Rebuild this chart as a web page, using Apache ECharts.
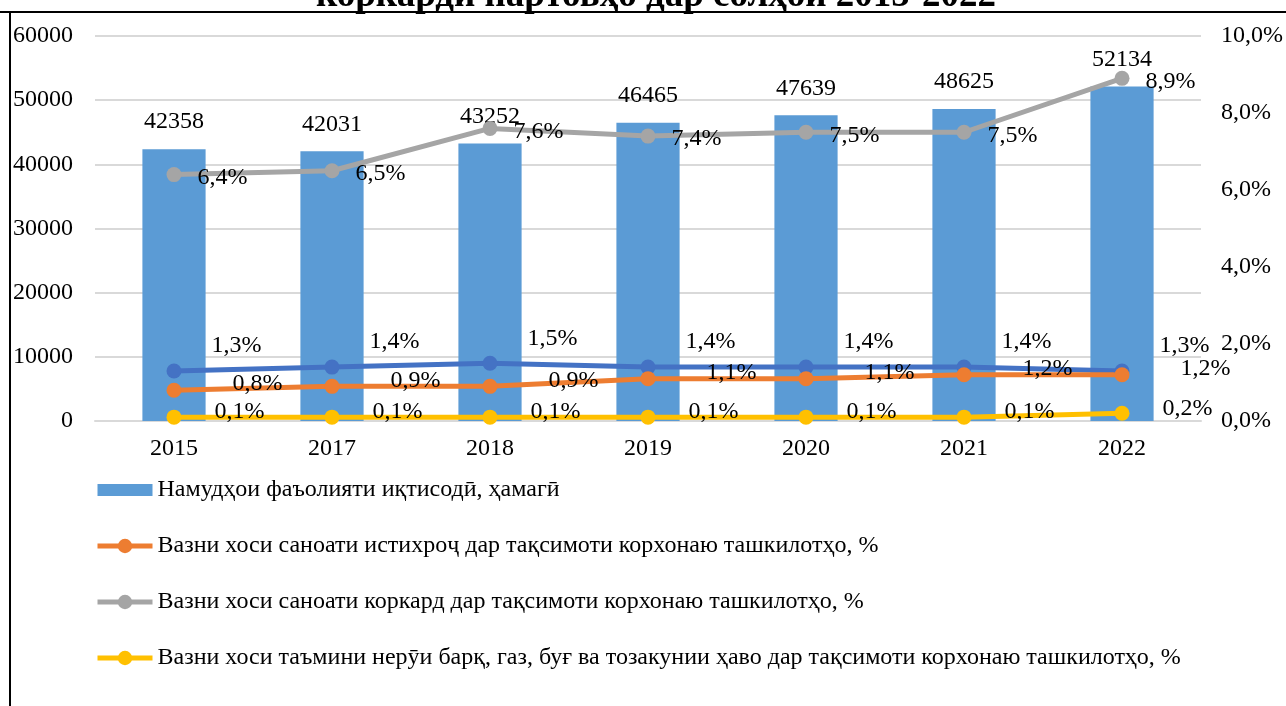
<!DOCTYPE html>
<html>
<head>
<meta charset="utf-8">
<script src="https://cdn.jsdelivr.net/npm/echarts@6/dist/echarts.min.js"></script>
<style>
html,body{margin:0;padding:0;background:#fff;}
#chart{width:1286px;height:706px;}
</style>
</head>
<body>
<div id="chart"></div>
<script>
const titleText = 'коркарди партовҳо дар солҳои 2015-2022';
const categories = ['2015', '2017', '2018', '2019', '2020', '2021', '2022'];
const totalName = 'Намудҳои фаъолияти иқтисодӣ, ҳамагӣ';
const totalValues = [42358, 42031, 43252, 46465, 47639, 48625, 52134];
const miningName = 'Вазни хоси саноати истихроҷ дар тақсимоти корхонаю ташкилотҳо, %';
const miningValues = [0.8, 0.9, 0.9, 1.1, 1.1, 1.2, 1.2];
const processingName = 'Вазни хоси саноати коркард дар тақсимоти корхонаю ташкилотҳо, %';
const processingValues = [6.4, 6.5, 7.6, 7.4, 7.5, 7.5, 8.9];
const energyName = 'Вазни хоси таъмини нерӯи барқ, газ, буғ ва тозакунии ҳаво дар тақсимоти корхонаю ташкилотҳо, %';
const energyValues = [0.1, 0.1, 0.1, 0.1, 0.1, 0.1, 0.2];
const otherName = 'Вазни хоси дигар соҳаҳо, %';
const otherValues = [1.3, 1.4, 1.5, 1.4, 1.4, 1.4, 1.3];
const leftTicks = [0, 60000, 10000];
const rightTicks = [0, 10, 2];

const FONT = '"Liberation Serif", "Times New Roman", serif';
const FS = 24;
const pct = v => (typeof v === 'object' ? v.value : v).toFixed(1).replace('.', ',') + '%';

function lineSeries(name, data, color, offset) {
  return {
    name, type: 'line', yAxisIndex: 1, data,
    symbol: 'circle', symbolSize: 15,
    lineStyle: { color, width: 5 },
    itemStyle: { color },
    label: {
      show: true, position: 'right', distance: 15, offset,
      formatter: p => pct(p.value),
      fontFamily: FONT, fontSize: FS, color: '#000'
    },
    z: 3
  };
}

const chart = echarts.init(document.getElementById('chart'));
chart.setOption({
  animation: false,
  backgroundColor: '#fff',
  title: {
    text: titleText, left: 651, textAlign: 'center', top: -27,
    textStyle: { fontFamily: FONT, fontSize: 37, fontWeight: 'bold', color: '#000' }
  },
  graphic: [
    { type: 'line', shape: { x1: 0, y1: 12, x2: 1286, y2: 12 }, style: { stroke: '#000', lineWidth: 2 }, z: 10 },
    { type: 'line', shape: { x1: 10, y1: 12, x2: 10, y2: 706 }, style: { stroke: '#000', lineWidth: 2 }, z: 10 }
  ],
  grid: { left: 95, right: 80, top: 36, bottom: 285, containLabel: false },
  legend: {
    orient: 'vertical', left: 90, top: 473,
    data: [
      { name: totalName, icon: 'path://M0,0H55V12H0Z' },
      miningName, processingName, energyName
    ],
    itemWidth: 55, itemHeight: 18, itemGap: 32,
    lineStyle: { width: 5 },
    textStyle: { fontFamily: FONT, fontSize: FS, color: '#000', lineHeight: 24 }
  },
  xAxis: {
    type: 'category', data: categories,
    axisLine: { lineStyle: { color: '#D9D9D9', width: 2 } },
    axisTick: { show: false },
    axisLabel: { fontFamily: FONT, fontSize: FS, color: '#000', margin: 16 }
  },
  yAxis: [
    {
      type: 'value', min: leftTicks[0], max: leftTicks[1], interval: leftTicks[2],
      axisLine: { show: false }, axisTick: { show: false },
      splitLine: { lineStyle: { color: '#D9D9D9', width: 2 } },
      axisLabel: { fontFamily: FONT, fontSize: FS, color: '#000', margin: 22, formatter: v => String(v) }
    },
    {
      type: 'value', min: rightTicks[0], max: rightTicks[1], interval: rightTicks[2],
      axisLine: { show: false }, axisTick: { show: false },
      splitLine: { show: false },
      axisLabel: { fontFamily: FONT, fontSize: FS, color: '#000', margin: 20, formatter: v => pct(v) }
    }
  ],
  series: [
    {
      name: totalName, type: 'bar', data: totalValues, barWidth: '40%',
      itemStyle: { color: '#5B9BD5' },
      label: { show: true, position: 'top', distance: 15, fontFamily: FONT, fontSize: FS, color: '#000' },
      z: 2
    },
    lineSeries(otherName, otherValues, '#4472C4', [15, -25]),
    lineSeries(miningName, miningValues, '#ED7D31', [36, -6]),
    lineSeries(processingName, processingValues, '#A5A5A5', [1, 3]),
    lineSeries(energyName, energyValues, '#FFC000', [18, -5])
  ]
});
</script>
</body>
</html>
